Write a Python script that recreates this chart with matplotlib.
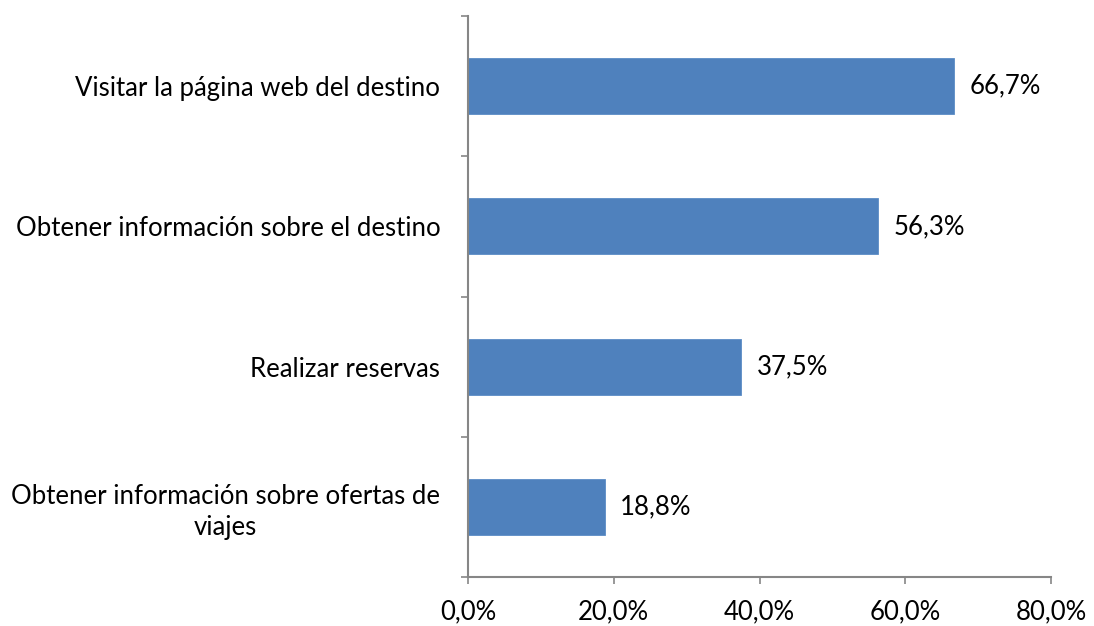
import matplotlib.pyplot as plt
from matplotlib.ticker import FuncFormatter

plt.rcParams.update({
    "font.family": ["Lato", "DejaVu Sans"],
    "font.size": 18.5,
})

# data (top to bottom as shown)
categories = [
    "Visitar la página web del destino",
    "Obtener información sobre el destino",
    "Realizar reservas",
    "Obtener información sobre ofertas de\nviajes",
]
values = [66.7, 56.3, 37.5, 18.8]

bar_color = "#4F81BD"
axis_color = "#868686"

fig = plt.figure(figsize=(10.94, 6.26), dpi=100)
ax = fig.add_axes([468 / 1094, 1 - 577 / 626, (1051 - 468) / 1094, (577 - 16) / 626])

ypos = list(range(len(categories)))[::-1]
ax.barh(ypos, values, height=0.4, color=bar_color, edgecolor="#5B8CC6", linewidth=0.6)

for y, v in zip(ypos, values):
    ax.text(v + 2.1, y, f"{v:.1f}%".replace(".", ","), va="center", ha="left",
            fontsize=18.5, color="black")

ax.set_xlim(0, 80)
ax.set_ylim(-0.5, len(categories) - 0.5)
ax.set_xticks([0, 20, 40, 60, 80])
ax.xaxis.set_major_formatter(FuncFormatter(lambda x, _: f"{x:.1f}%".replace(".", ",")))

ax.set_yticks(ypos)
ax.set_yticklabels(categories, multialignment="center", linespacing=1.3)
ax.set_yticks([y + 0.5 for y in range(-1, len(categories))], minor=True)
ax.tick_params(axis="y", which="major", length=0, pad=20)
ax.tick_params(axis="y", which="minor", length=5, width=1.2, color=axis_color, direction="out")
ax.tick_params(axis="x", length=5, width=1.2, color=axis_color, direction="out", pad=11)

for s in ["top", "right"]:
    ax.spines[s].set_visible(False)
for s in ["left", "bottom"]:
    ax.spines[s].set_color(axis_color)
    ax.spines[s].set_linewidth(1.5)

fig.savefig("out.png", dpi=100)
